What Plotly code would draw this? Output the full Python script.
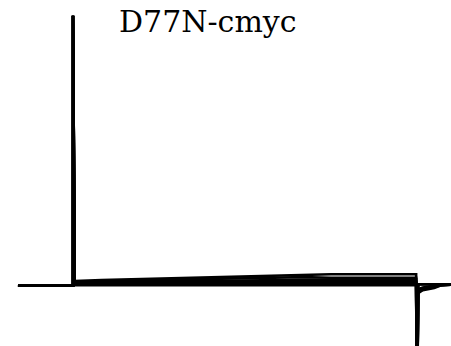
import plotly.graph_objects as go

# Whole-cell current family (time in ms, current in nA)
title_text = "D77N-cmyc"

pre_t = [-19.2, 0.0]
pre_i = [0.0, 0.0]

spike_peak = 2.70      # capacitive transient at pulse onset
spike_end = -1.50      # capacitive transient at pulse offset
pulse_end = 120.0

step_t = [0.6, 10, 20, 30, 40, 50, 60, 70, 80, 90, 100, 110, 119.7]
traces_i = {
    "A": [0.047, 0.056, 0.064, 0.073, 0.081, 0.089, 0.097, 0.105, 0.112, 0.114, 0.114, 0.114, 0.114],
    "B": [0.040, 0.046, 0.053, 0.060, 0.066, 0.071, 0.075, 0.080, 0.086, 0.080, 0.079, 0.079, 0.079],
    "C": [0.032, 0.036, 0.040, 0.044, 0.047, 0.050, 0.053, 0.056, 0.060, 0.062, 0.063, 0.063, 0.063],
    "D": [0.025, 0.028, 0.031, 0.034, 0.036, 0.038, 0.040, 0.042, 0.044, 0.046, 0.047, 0.047, 0.047],
    "E": [0.018, 0.020, 0.022, 0.024, 0.025, 0.026, 0.027, 0.028, 0.029, 0.030, 0.031, 0.031, 0.031],
    "F": [0.012, 0.013, 0.014, 0.014, 0.015, 0.015, 0.015, 0.016, 0.016, 0.017, 0.017, 0.017, 0.017],
    "G": [0.005, 0.005, 0.005, 0.005, 0.005, 0.005, 0.005, 0.005, 0.005, 0.005, 0.005, 0.005, 0.005],
}

tail_t = [120.4, 122, 124, 126, 128, 131.9]
tails_i = {
    "A": [0.014, 0.014, 0.014, 0.014, 0.014, 0.014],
    "B": [-0.075, -0.045, -0.032, -0.022, 0.000, 0.010],
    "C": [-0.062, -0.038, -0.027, -0.015, 0.005, 0.010],
    "D": [-0.050, -0.028, -0.018, -0.008, 0.008, 0.010],
    "E": [-0.035, -0.018, -0.008, 0.000, 0.010, 0.010],
}

fig = go.Figure()
for name, vals in traces_i.items():
    t = pre_t + [0.0] + step_t + [pulse_end, pulse_end]
    i = pre_i + [spike_peak] + vals + [spike_end, spike_end]
    tail = tails_i.get(name, tails_i["A"])
    t += tail_t
    i += tail
    fig.add_trace(go.Scatter(x=t, y=i, mode="lines",
                             line=dict(color="black", width=2.6),
                             hoverinfo="skip", showlegend=False))

px_per_ms = 344 / 120.0
px_per_na = 100.0
x0_px, y0_px = 73.0, 285.7
xr = [(0 - x0_px) / px_per_ms, (451 - x0_px) / px_per_ms]
yr = [(y0_px - 346) / px_per_na, (y0_px - 0) / px_per_na]

fig.update_layout(
    width=451, height=346,
    margin=dict(l=0, r=0, t=0, b=0),
    paper_bgcolor="white", plot_bgcolor="white",
    xaxis=dict(range=xr, visible=False, fixedrange=True),
    yaxis=dict(range=yr, visible=False, fixedrange=True),
    annotations=[dict(text=title_text, xref="paper", yref="paper",
                      x=117 / 451, y=1 - 21.5 / 346, xanchor="left", yanchor="middle",
                      showarrow=False,
                      font=dict(family="DejaVu Serif", size=30, color="black"))],
)

fig.write_html("out.html", config={"displayModeBar": False})
